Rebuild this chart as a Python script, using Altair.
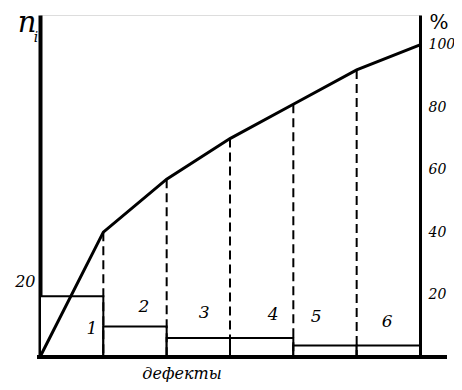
import altair as alt
import pandas as pd

# ---- data ----
defects = [1, 2, 3, 4, 5, 6]
counts = [16, 8, 5, 5, 3, 3]
cum_pos = [0, 1, 2, 3, 4, 5, 6]
cum_pct = [0, 40, 57, 70, 81, 92, 100]
# annotation anchors for the defect numbers (data units: x = category axis, y = n_i)
label_x = [0.82, 1.64, 2.59, 3.68, 4.36, 5.48]
label_y = [7.4, 13.2, 11.6, 11.0, 10.5, 9.2]
left_ticks = [20]
right_ticks = [20, 40, 60, 80, 100]

W, H = 380, 342
SERIF = "DejaVu Serif"

bars_df = pd.DataFrame({
    "defect": defects,
    "start": [d - 1 for d in defects],
    "end": defects,
    "n": counts,
})
line_df = pd.DataFrame({"pos": cum_pos, "pct": cum_pct})
rules_df = line_df[(line_df.pos > 0) & (line_df.pos < 6)].reset_index(drop=True)
labels_df = pd.DataFrame({"lx": label_x, "ly": label_y, "txt": [str(d) for d in defects]})
one = pd.DataFrame({"k": [0]})

xs = alt.Scale(domain=[0, 6], nice=False, zero=False)
ys_left = alt.Scale(domain=[0, 90], nice=False)
ys_right = alt.Scale(domain=[0, 109.6], nice=False)

left_axis = alt.Axis(
    orient="left", values=left_ticks, ticks=False, grid=False,
    domainWidth=4, domainColor="black", labelFont=SERIF, labelFontStyle="italic",
    labelFontSize=16, labelPadding=5, labelColor="black", title=None,
)
right_axis = alt.Axis(
    orient="right", values=right_ticks, ticks=False, grid=False,
    domainWidth=3, domainColor="black", labelFont=SERIF, labelFontStyle="italic",
    labelFontSize=14, labelPadding=8, labelColor="black", title=None,
)

bars = alt.Chart(bars_df).mark_rect(
    fill="white", stroke="black", strokeWidth=2
).encode(
    x=alt.X("start:Q", scale=xs, axis=None),
    x2="end:Q",
    y=alt.Y("n:Q", scale=ys_left, axis=left_axis),
    y2=alt.datum(0),
)

nums = alt.Chart(labels_df).mark_text(
    font=SERIF, fontStyle="italic", fontSize=17, color="black", baseline="middle", align="center"
).encode(
    x=alt.X("lx:Q", scale=xs, axis=None),
    y=alt.Y("ly:Q", scale=ys_left, axis=left_axis),
    text="txt:N",
)

def txt(t, x, y, size, italic=True, align="center"):
    kw = dict(font=SERIF, fontSize=size, color="black", align=align, baseline="alphabetic", text=t)
    if italic:
        kw["fontStyle"] = "italic"
    return alt.Chart(one).mark_text(**kw).encode(x=alt.value(x), y=alt.value(y))

n_lbl = txt("n", -13, 17, 29)
i_lbl = txt("i", -4, 27, 14)
pct_lbl = txt("%", 399, 14, 20, italic=False)
def_lbl = txt("дефекты", 142, 364, 16)

bottom = alt.Chart(one).mark_rule(color="black", strokeWidth=4).encode(
    x=alt.value(-3), x2=alt.value(407), y=alt.value(H)
)

left_group = alt.layer(bars, nums, bottom, n_lbl, i_lbl, pct_lbl, def_lbl)

rules = alt.Chart(rules_df).mark_rule(
    color="black", strokeWidth=2, strokeDash=[9, 5]
).encode(
    x=alt.X("pos:Q", scale=xs, axis=None),
    y=alt.Y("pct:Q", scale=ys_right, axis=right_axis),
    y2=alt.datum(0),
)

line = alt.Chart(line_df).mark_line(color="black", strokeWidth=3).encode(
    x=alt.X("pos:Q", scale=xs, axis=None),
    y=alt.Y("pct:Q", scale=ys_right, axis=right_axis),
)

right_group = alt.layer(rules, line)

chart = alt.layer(left_group, right_group).resolve_scale(y="independent").properties(
    width=W, height=H,
    autosize=alt.AutoSizeParams(type="none"),
    padding={"left": 32, "top": 7, "right": 34, "bottom": 25},
).configure_view(stroke=None).configure(background="white")

chart.save("out.html", embed_options={"renderer": "svg", "actions": False})
